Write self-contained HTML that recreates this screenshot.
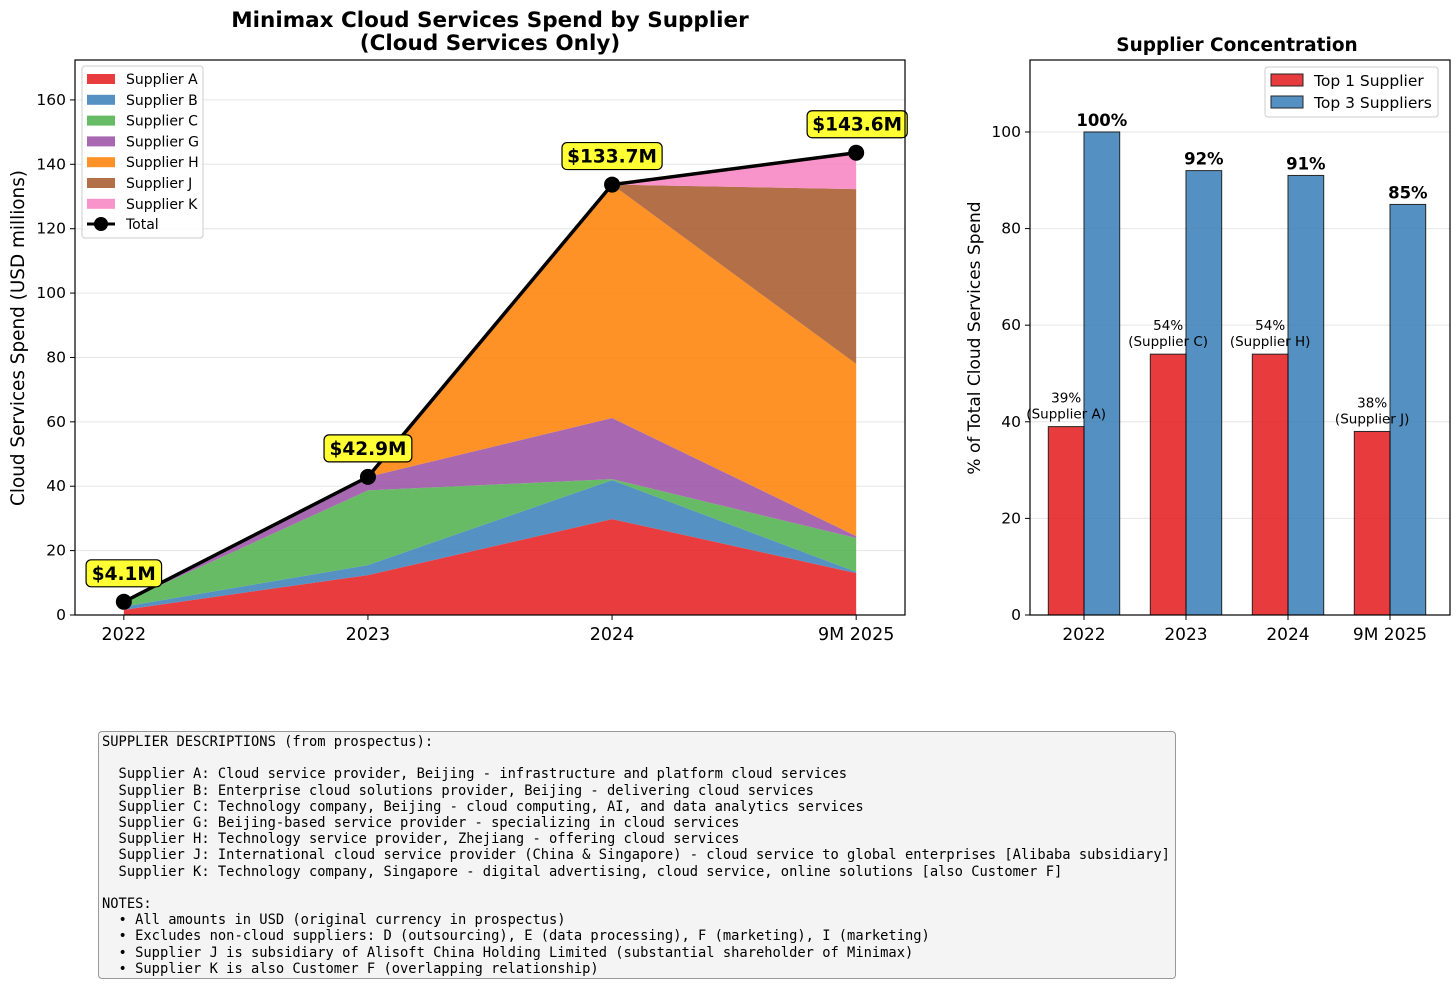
<!DOCTYPE html>
<html><head><meta charset="utf-8"><style>
body{margin:0;background:#fff;width:1456px;height:987px;overflow:hidden;font-family:"DejaVu Sans","Liberation Sans",sans-serif}
svg text{font-family:"DejaVu Sans","Liberation Sans",sans-serif}
#notes{position:absolute;left:98px;top:731px;width:1078px;height:248px;box-sizing:border-box;border:1.5px solid #999;border-radius:4px;background:#f4f4f4;font-family:"DejaVu Sans Mono","Liberation Mono",monospace;font-size:13.75px;line-height:16.2px;white-space:pre;padding:2px 3px;color:#000}
</style></head><body>
<svg id="chart" width="1456" height="987" style="position:absolute;left:0;top:0"></svg>
<div id="notes">SUPPLIER DESCRIPTIONS (from prospectus):

  Supplier A: Cloud service provider, Beijing - infrastructure and platform cloud services
  Supplier B: Enterprise cloud solutions provider, Beijing - delivering cloud services
  Supplier C: Technology company, Beijing - cloud computing, AI, and data analytics services
  Supplier G: Beijing-based service provider - specializing in cloud services
  Supplier H: Technology service provider, Zhejiang - offering cloud services
  Supplier J: International cloud service provider (China &amp; Singapore) - cloud service to global enterprises [Alibaba subsidiary]
  Supplier K: Technology company, Singapore - digital advertising, cloud service, online solutions [also Customer F]

NOTES:
  • All amounts in USD (original currency in prospectus)
  • Excludes non-cloud suppliers: D (outsourcing), E (data processing), F (marketing), I (marketing)
  • Supplier J is subsidiary of Alisoft China Holding Limited (substantial shareholder of Minimax)
  • Supplier K is also Customer F (overlapping relationship)</div>
<script>
const years=["2022","2023","2024","9M 2025"];
const supplierNames=["Supplier A","Supplier B","Supplier C","Supplier G","Supplier H","Supplier J","Supplier K"];
const supA=[1.6,12.4,29.8,13.0];
const supB=[1.0,3.1,12.1,0.4];
const supC=[1.5,23.2,0.3,10.5];
const supG=[0.0,4.2,19.0,0.6];
const supH=[0.0,0.0,72.5,53.5];
const supJ=[0.0,0.0,0.0,54.3];
const supK=[0.0,0.0,0.0,11.3];
const totals=[4.1,42.9,133.7,143.6];
const totalLabels=["$4.1M","$42.9M","$133.7M","$143.6M"];
const yTicksL=[0,20,40,60,80,100,120,140,160];
const top1=[39,54,54,38];
const top1Labels=["39%\n(Supplier A)","54%\n(Supplier C)","54%\n(Supplier H)","38%\n(Supplier J)"];
const top3=[100,92,91,85];
const yTicksR=[0,20,40,60,80,100];

const colors=["#e41a1c","#377eb8","#4daf4a","#984ea3","#ff7f00","#a65628","#f781bf"];
const series=[supA,supB,supC,supG,supH,supJ,supK];
const svg=document.getElementById('chart');
const NS="http://www.w3.org/2000/svg";
function mk(tag,attrs,parent){const e=document.createElementNS(NS,tag);for(const k in attrs)e.setAttribute(k,attrs[k]);(parent||svg).appendChild(e);return e;}
function txt(s,attrs,parent){const e=mk('text',attrs,parent);e.textContent=s;return e;}

// LEFT
const L={x0:75,x1:905,y0:60,y1:615};
const xL=i=>L.x0+(i+0.2)/3.4*(L.x1-L.x0);
const yL=v=>L.y1-v/172.4*(L.y1-L.y0);
yTicksL.forEach(t=>{
  const g=mk('line',{x1:L.x0,x2:L.x1,y1:yL(t),y2:yL(t),stroke:'#e6e6e6','stroke-width':1});
  
  mk('line',{x1:L.x0-5,x2:L.x0,y1:yL(t),y2:yL(t),stroke:'#000'});
  const tl=txt(String(t),{x:L.x0-9,y:yL(t)+5,'text-anchor':'end','font-size':15.5});
  
});
let cum=[0,0,0,0];
series.forEach((s,si)=>{
  const top=cum.map((c,i)=>c+s[i]);
  let d='';
  top.forEach((v,i)=>{d+=(i?'L':'M')+xL(i)+','+yL(v);});
  for(let i=3;i>=0;i--)d+='L'+xL(i)+','+yL(cum[i]);
  const p=mk('path',{d:d+'Z',fill:colors[si],opacity:0.85});
  
  
  cum=top;
});
let td='';totals.forEach((v,i)=>{td+=(i?'L':'M')+xL(i)+','+yL(v);});
const tline=mk('path',{d:td,fill:'none',stroke:'#000','stroke-width':3.5});

totals.forEach((v,i)=>{
  const c=mk('circle',{cx:xL(i),cy:yL(v),r:8,fill:'#000'});
  
  const w=totalLabels[i].length*12.3+14, cx=xL(i)+(i==3?1:0), cy=yL(v)-29;
  const r=mk('rect',{x:cx-w/2,y:cy-13,width:w,height:27,rx:5,fill:'#ffff33',stroke:'#000','stroke-width':1.2});
  
  const t=txt(totalLabels[i],{x:cx,y:cy+7,'text-anchor':'middle','font-size':18.5,'font-weight':'bold'});
  
});
years.forEach((y,i)=>{
  mk('line',{x1:xL(i),x2:xL(i),y1:L.y1,y2:L.y1+5,stroke:'#000'});
  const t=txt(y,{x:xL(i),y:L.y1+25,'text-anchor':'middle','font-size':17.5});
  
});
const fL=mk('rect',{x:L.x0,y:L.y0,width:L.x1-L.x0,height:L.y1-L.y0,fill:'none',stroke:'#000','stroke-width':1.2});

let t=txt('Cloud Services Spend (USD millions)',{x:24,y:338,'text-anchor':'middle','font-size':18.4,transform:'rotate(-90 24 338)'});

t=txt('Minimax Cloud Services Spend by Supplier',{x:490,y:27,'text-anchor':'middle','font-size':21.5,'font-weight':'bold'});

t=txt('(Cloud Services Only)',{x:490,y:50,'text-anchor':'middle','font-size':21.5,'font-weight':'bold'});

const lg=mk('g',{});
mk('rect',{x:82,y:66,width:121,height:172,rx:3,fill:'#fff','fill-opacity':0.85,stroke:'#ccc'},lg);
supplierNames.forEach((n,i)=>{
  const y=79+i*20.8;
  const sw=mk('rect',{x:87,y:y-5,width:28,height:10,fill:colors[i],opacity:0.85},lg);
  
  const lt=txt(n,{x:126,y:y+5,'font-size':14},lg);
  
});
mk('line',{x1:87,x2:115,y1:224,y2:224,stroke:'#000','stroke-width':3},lg);
mk('circle',{cx:101,cy:224,r:7,fill:'#000'},lg);
t=txt('Total',{x:126,y:229,'font-size':14},lg);

// RIGHT
const R={x0:1030,x1:1450,y0:60,y1:615};
const xR=i=>1084+102*i;
const yR=v=>R.y1-v/114.9*(R.y1-R.y0);
yTicksR.forEach(tk=>{
  const g=mk('line',{x1:R.x0,x2:R.x1,y1:yR(tk),y2:yR(tk),stroke:'#e6e6e6'});
  
  mk('line',{x1:R.x0-5,x2:R.x0,y1:yR(tk),y2:yR(tk),stroke:'#000'});
  const tl=txt(String(tk),{x:R.x0-9,y:yR(tk)+5,'text-anchor':'end','font-size':15.5});
  
});
const bw=35.7;
years.forEach((y,i)=>{
  const b1=mk('rect',{x:xR(i)-bw,y:yR(top1[i]),width:bw,height:yR(0)-yR(top1[i]),fill:'#e41a1c',opacity:0.85,stroke:'#000','stroke-width':1});
  
  const b3=mk('rect',{x:xR(i),y:yR(top3[i]),width:bw,height:yR(0)-yR(top3[i]),fill:'#377eb8',opacity:0.85,stroke:'#000','stroke-width':1});
  
  const parts=top1Labels[i].split('\n');
  let a=txt(parts[0],{x:xR(i)-bw/2,y:yR(top1[i])-24,'text-anchor':'middle','font-size':13.5});
  
  a=txt(parts[1],{x:xR(i)-bw/2,y:yR(top1[i])-8,'text-anchor':'middle','font-size':13.5});
  
  a=txt(top3[i]+'%',{x:xR(i)+bw/2,y:yR(top3[i])-6,'text-anchor':'middle','font-size':16.5,'font-weight':'bold'});
  
  mk('line',{x1:xR(i),x2:xR(i),y1:R.y1,y2:R.y1+5,stroke:'#000'});
  a=txt(y,{x:xR(i),y:R.y1+25,'text-anchor':'middle','font-size':17});
  
});
const fR=mk('rect',{x:R.x0,y:R.y0,width:R.x1-R.x0,height:R.y1-R.y0,fill:'none',stroke:'#000','stroke-width':1.2});

t=txt('Supplier Concentration',{x:1237,y:51,'text-anchor':'middle','font-size':18.5,'font-weight':'bold'});

t=txt('% of Total Cloud Services Spend',{x:980,y:338,'text-anchor':'middle','font-size':17,transform:'rotate(-90 980 338)'});

const rg=mk('g',{});
mk('rect',{x:1265,y:67,width:173,height:50,rx:3,fill:'#fff',stroke:'#ccc'},rg);
[['Top 1 Supplier','#e41a1c'],['Top 3 Suppliers','#377eb8']].forEach((e,i)=>{
  const y=80+i*22;
  const s=mk('rect',{x:1271,y:y-6,width:32,height:12,fill:e[1],opacity:0.85,stroke:'#000'},rg);
  
  const l=txt(e[0],{x:1314,y:y+6,'font-size':15.5},rg);
  
});
</script>
</body></html>
